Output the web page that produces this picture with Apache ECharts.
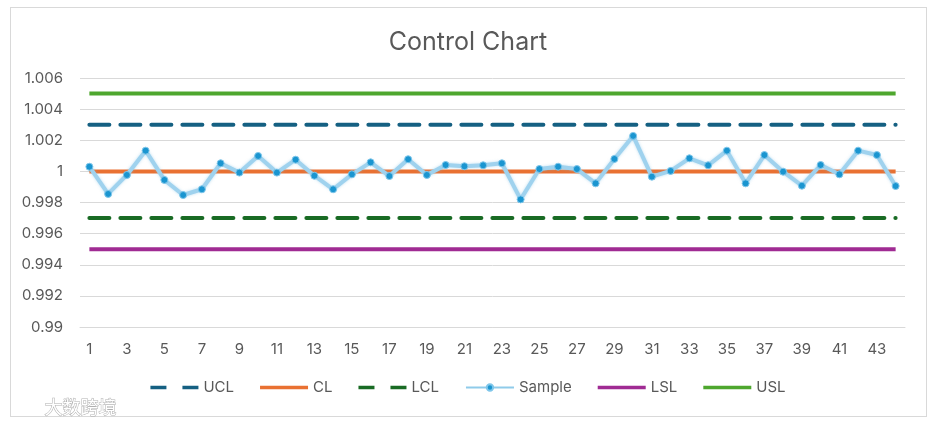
<!DOCTYPE html>
<html>
<head>
<meta charset="utf-8">
<script src="https://cdn.jsdelivr.net/npm/echarts@6/dist/echarts.min.js"></script>
<style>
html,body{margin:0;padding:0;background:#fff;}
#frame{position:absolute;left:10px;top:7px;width:917px;height:410px;border:1px solid #d9d9d9;box-sizing:border-box;}
#c{position:absolute;left:0;top:0;width:936px;height:427px;}
</style>
</head>
<body>
<div id="frame"></div>
<div id="c"></div>
<script>
const categories = ['1','2','3','4','5','6','7','8','9','10','11','12','13','14','15','16','17','18','19','20','21','22','23','24','25','26','27','28','29','30','31','32','33','34','35','36','37','38','39','40','41','42','43','44'];
const sample = [1.0003, 0.99855, 0.99977, 1.00133, 0.99945, 0.99848, 0.99885, 1.00052, 0.99992, 1.00099,
  0.99992, 1.00075, 0.99972, 0.99885, 0.99981, 1.00058, 0.9997, 1.00078, 0.99977, 1.00041,
  1.00033, 1.00039, 1.00052, 0.9982, 1.00015, 1.0003, 1.00015, 0.99923, 1.0008, 1.00228,
  0.99966, 1.00003, 1.00084, 1.00039, 1.00133, 0.99923, 1.00105, 0.99998, 0.99908, 1.00041,
  0.99981, 1.00133, 1.00105, 0.99906];
const UCL = 1.003;
const CL = 1.0;
const LCL = 0.997;
const LSL = 0.995;
const USL = 1.005;
const yTicks = { min: 0.99, max: 1.006, interval: 0.002 };

const constLine = v => categories.map(() => v);
const txt = '#595959';
const dashIcon = 'path://M0,0M0,8M0,2.2h16v3.6h-16zM32,2.2h16v3.6h-16z';
const solidIcon = 'path://M0,0M0,8M0,2.2h48v3.6h-48z';
const chart = echarts.init(document.getElementById('c'));
chart.setOption({
  backgroundColor: 'transparent',
  animation: false,
  title: {
    text: 'Control Chart', left: 'center', top: 25,
    textStyle: { fontFamily: 'Inter', fontSize: 25, fontWeight: 'normal', color: txt }
  },
  legend: {
    bottom: 27, left: 'center', itemWidth: 48, itemHeight: 8, itemGap: 26,
    textStyle: { fontFamily: 'Inter', fontSize: 15, color: txt },
    data: [
      { name: 'UCL', icon: dashIcon },
      { name: 'CL', icon: solidIcon },
      { name: 'LCL', icon: dashIcon },
      { name: 'Sample', lineStyle: { width: 2, color: '#8fcbea' } },
      { name: 'LSL', icon: solidIcon },
      { name: 'USL', icon: solidIcon }
    ]
  },
  grid: { left: 80, right: 31, top: 78, bottom: 100 },
  xAxis: {
    type: 'category', data: categories, boundaryGap: true,
    axisLine: { lineStyle: { color: '#d9d9d9' } },
    axisTick: { show: false },
    axisLabel: { interval: 1, margin: 15, fontFamily: 'Inter', fontSize: 15, color: txt }
  },
  yAxis: {
    type: 'value', min: yTicks.min, max: yTicks.max, interval: yTicks.interval,
    axisLine: { show: false }, axisTick: { show: false },
    splitLine: { lineStyle: { color: '#d9d9d9' } },
    axisLabel: { margin: 17, fontFamily: 'Inter', fontSize: 15, color: txt,
      formatter: v => String(parseFloat(v.toFixed(4))) }
  },
  series: [
    { name: 'UCL', type: 'line', data: constLine(UCL), symbol: 'none', color: '#156082',
      lineStyle: { width: 4, type: [20, 11], cap: 'round', color: '#156082' } },
    { name: 'CL', type: 'line', data: constLine(CL), symbol: 'none', color: '#E97132',
      lineStyle: { width: 4, color: '#E97132' } },
    { name: 'LCL', type: 'line', data: constLine(LCL), symbol: 'none', color: '#196B24',
      lineStyle: { width: 4, type: [20, 11], cap: 'round', color: '#196B24' } },
    { name: 'Sample', type: 'line', data: sample, symbol: 'circle', symbolSize: 7, z: 5,
      color: '#1a95d0',
      itemStyle: { color: '#1a95d0', borderColor: '#7fc6ea', borderWidth: 1 },
      lineStyle: { width: 4, color: '#9fd2ee', shadowColor: 'rgba(120,190,230,0.5)', shadowBlur: 3 } },
    { name: 'LSL', type: 'line', data: constLine(LSL), symbol: 'none', color: '#A02B93',
      lineStyle: { width: 4, color: '#A02B93' } },
    { name: 'USL', type: 'line', data: constLine(USL), symbol: 'none', color: '#4EA72E',
      lineStyle: { width: 4, color: '#4EA72E' } }
  ],
  graphic: [
    { type: 'text', left: 44, top: 398,
      style: { text: '大数跨境', font: '18px "Noto Sans CJK SC"', fill: '#ffffff', stroke: '#b0b0b0', lineWidth: 1 } }
  ]
});
</script>
</body>
</html>
